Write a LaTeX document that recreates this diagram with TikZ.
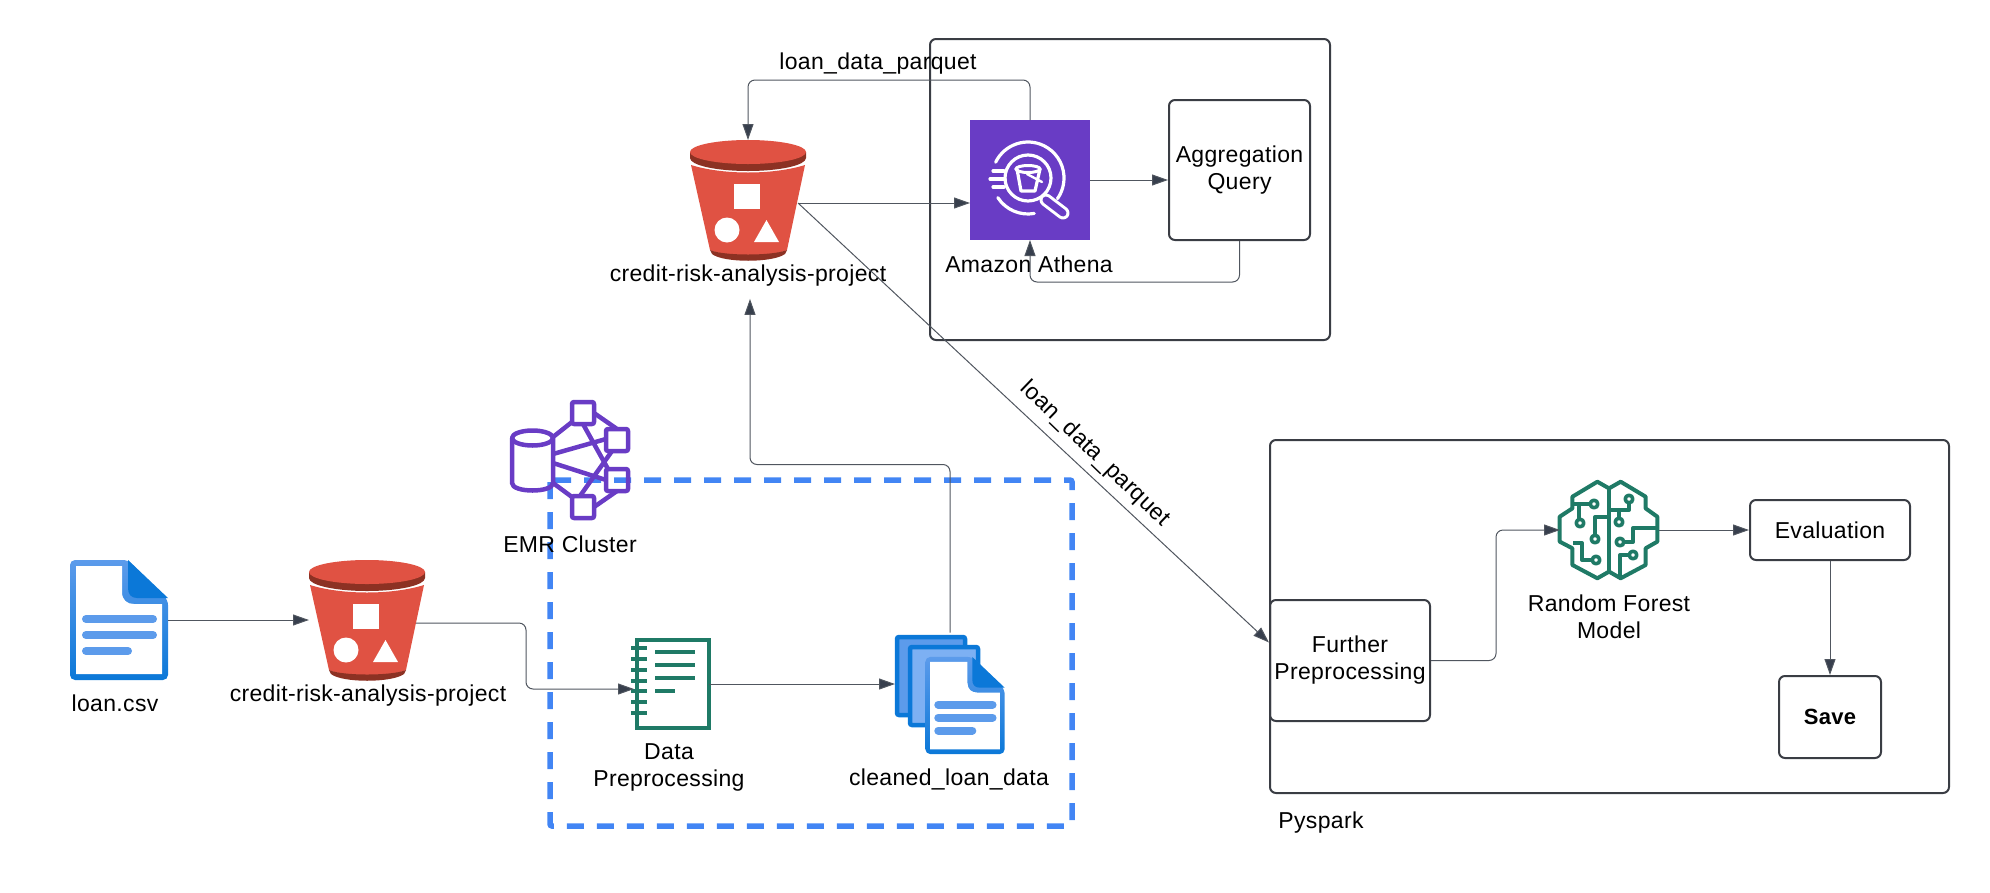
\documentclass[tikz,border=0pt]{standalone}
\usepackage{fontspec}
\setmainfont[LetterSpace=1.5]{Liberation Sans}
\usetikzlibrary{arrows.meta, shapes.geometric, positioning, calc}
\definecolor{lineGray}{HTML}{50565F}
\definecolor{tipGray}{HTML}{373F4D}
\definecolor{boxGray}{HTML}{3A3D44}
\definecolor{bucketRed}{HTML}{E05243}
\definecolor{bucketDark}{HTML}{8C3123}
\definecolor{awsPurple}{HTML}{693CC5}
\definecolor{mlGreen}{HTML}{1F7A66}
\definecolor{dashBlue}{HTML}{4285F4}
\definecolor{docDark}{HTML}{0B78D8}
\definecolor{docLight}{HTML}{5C9BEB}
\definecolor{docPale}{HTML}{7DB0F3}
\tikzstyle{arrow} = [draw=lineGray, line width=1pt, rounded corners=7pt, -{Triangle[length=16pt,width=11pt,fill=tipGray]}]
\tikzstyle{box} = [draw=boxGray, line width=2pt, rounded corners=6pt]
\tikzstyle{txt} = [font=\fontsize{23}{27}\selectfont, align=center, text=black, inner sep=0pt]
\tikzstyle{icon} = [inner sep=0pt, outer sep=0pt]
\tikzset{
	bucketpic/.pic={
		\fill[bucketRed] (-57,-35) .. controls (-25,-25) and (25,-25) .. (57,-35) -- (39,50) .. controls (25,57) and (-25,57) .. (-38,50) -- cycle;
		\fill[bucketDark] (-38,50) .. controls (-25,56) and (25,56) .. (39,50) -- (37,54) .. controls (25,63) and (-25,63) .. (-36,54) -- cycle;
		\fill[bucketDark] (-58,-48) -- (-58,-42) arc[start angle=180, end angle=0, x radius=58, y radius=13] -- (58,-48) -- cycle;
		\fill[bucketRed] (0,-48) ellipse[x radius=58, y radius=12];
		\fill[white] (-14,-16) rectangle (12,9);
		\fill[white] (-21,30) circle[radius=12.5];
		\fill[white] (6,42) -- (31,42) -- (18.5,20) -- cycle;
	},
	docpage/.pic={
		\shade[top color=docLight, bottom color=docDark, rounded corners=5pt] (-49,-60) -- (9,-60) -- (49,-20) -- (49,60) -- (-49,60) -- cycle;
		\fill[white] (-43,-54) -- (3,-54) -- (3,-28) .. controls (3,-20) and (8,-16) .. (15,-16) -- (43,-16) -- (43,54) -- (-43,54) -- cycle;
		\fill[docDark] (9,-60) -- (49,-22) -- (18,-22) .. controls (12,-22) and (9,-26) .. (9,-32) -- cycle;
		\draw[docLight, line width=8pt, line cap=round] (-33,-1) -- (34,-1) (-33,15) -- (34,15) (-33,31) -- (9,31);
	},
	athenapic/.pic={
		\fill[awsPurple] (-60,-60) rectangle (60,60);
		\draw[white, line width=3.2pt, line cap=round] (-2,-2) circle[radius=23];
		\draw[white, line width=3.2pt, line cap=round] (-2,-2) ++(206:36) arc[start angle=206, end angle=395, radius=36];
		\draw[white, line width=3.2pt, line cap=round] (-2,-2) ++(80:36) arc[start angle=80, end angle=147, radius=36];
		\draw[white, line width=3.2pt, line cap=round] (-37,-9) -- (-26,-9) (-40,-1) -- (-25,-1) (-37,7) -- (-26,7);
		\draw[white, line width=3.2pt, line join=round] (-13,-11) -- (-9,11) -- (5,11) -- (10,-11);
		\draw[white, line width=3pt] (-2,-11) ellipse[x radius=12, y radius=3.5];
		\draw[white, line width=2.4pt, line cap=round] (-3,-6) -- (12,2);
		\draw[white, line width=13pt, line cap=round] (16,20) -- (33,33);
		\draw[awsPurple, line width=7pt, line cap=round] (16,20) -- (33,33);
	},
	emrpic/.pic={
		\begin{scope}[awsPurple, line width=4.5pt, line join=round]
			\draw (-58,-22) -- (-58,23) .. controls (-58,33) and (-17,33) .. (-17,23) -- (-17,-22);
			\draw (-37.5,-22) ellipse[x radius=20.5, y radius=7.5];
			\foreach \sx/\sy in {13/-47, 47/-20, 47/20, 13/47}
				\draw[rounded corners=2pt] (\sx-11,\sy-11) rectangle (\sx+11,\sy+11);
			\draw (-17,-23) -- (2,-38);
			\draw (-17,-6) -- (36,-21);
			\draw (-17,3) -- (36,20);
			\draw (-17,23) -- (2,37);
			\draw (24,-47) -- (47,-31);
			\draw (13,-36) -- (38,9);
			\draw (42,-9) -- (10,36);
			\draw (24,47) -- (47,31);
		\end{scope}
	},
	prepnote/.pic={
		\draw[mlGreen, line width=3.6pt] (-33,-44) rectangle (39,44);
		\foreach \ty in {-36,-25,-14,-3,7,18,29}
			\draw[mlGreen, line width=4pt] (-39,\ty) -- (-23,\ty);
		\draw[mlGreen, line width=3.4pt] (-15,-32) -- (25,-32) (-15,-19) -- (25,-19) (-15,-6) -- (25,-6) (-15,7) -- (5,7);
	},
	stackpic/.pic={
		\draw[docDark, fill=docLight, line width=4.5pt, rounded corners=2pt] (-53,-55) rectangle (15,23);
		\draw[docDark, fill=docPale, line width=4.5pt, rounded corners=2pt] (-40,-45) rectangle (28,33);
		\pic[scale=0.81] at (15,13.5) {docpage};
	},
	brainpic/.pic={
		\begin{scope}[mlGreen, line width=4pt, line join=round]
			\draw[x=0.333pt, y=0.333pt] (0,-125) -- (-35,-145) -- (-110,-105) -- (-110,-55) -- (-148,-35) -- (-148,40) -- (-110,65) -- (-110,100) -- (-35,145) -- (0,125) -- (35,145) -- (110,100) -- (110,65) -- (145,40) -- (145,-35) -- (110,-55) -- (110,-105) -- (35,-145) -- cycle;
			\draw (0,-42) -- (0,42);
			\draw (-35,-26) -- (-15,-26);
			\draw (-30,-26) -- (-30,-7);
			\draw (0,-13) -- (-14,-13) -- (-14,9);
			\draw (-36,13) -- (-27,13) -- (-27,30) -- (-13,30);
			\draw (0,-20) -- (20,-20) -- (20,-31);
			\draw (10,-20) -- (10,-8);
			\draw (48,-2) -- (24,-2) -- (24,12) -- (11,12);
			\draw (11,47) -- (11,25) -- (24,25);
			\foreach \nx/\ny in {-15/-26, -29/-7, -14/9, -13/30, 20/-31, 10/-8, 11/12, 24/25}
				\draw[fill=white, line width=3.6pt] (\nx,\ny) circle[radius=3.8];
		\end{scope}
	}
}
\begin{document}
\begin{tikzpicture}[x=1pt, y=-1pt]
	\useasboundingbox (0,0) rectangle (1990,892);
	
	% Dashed region of the cluster
	\draw[dashBlue, line width=5.5pt, dash pattern=on 17pt off 13pt, rounded corners=2pt] (550,480) rectangle (1072,826);
	
	% Outer frames
	\node[box, minimum width=400pt, minimum height=301pt] (frameAthena) at (1130,189.5) {};
	\node[box, minimum width=679pt, minimum height=353pt] (framePyspark) at (1609.5,616.5) {};
	
	% Icons
	\node[icon, minimum width=98pt, minimum height=120pt] (iconCsv) at (119,620) {};
	\pic at (119,620) {docpage};
	\node[icon, minimum width=116pt, minimum height=120pt] (bucketLow) at (367,620) {};
	\pic at (367,620) {bucketpic};
	\node[icon, minimum width=116pt, minimum height=120pt] (bucketTop) at (748,200) {};
	\pic at (748,200) {bucketpic};
	\node[icon, minimum width=120pt, minimum height=120pt] (iconAthena) at (1030,180) {};
	\pic at (1030,180) {athenapic};
	\pic at (570,460) {emrpic};
	\node[icon, minimum width=78pt, minimum height=88pt] (iconPrep) at (670,684) {};
	\pic at (670,684) {prepnote};
	\node[icon, minimum width=110pt, minimum height=119pt] (iconStack) at (950,692) {};
	\pic at (950,692) {stackpic};
	\node[icon, minimum width=99pt, minimum height=99pt] (iconForest) at (1609.5,530) {};
	\pic at (1609,530) {brainpic};
	
	% Process boxes
	\node[box, txt, minimum width=141pt, minimum height=140pt] (boxQuery) at (1239.5,170) {Aggregation\\Query};
	\node[box, txt, minimum width=160pt, minimum height=121pt] (boxFurther) at (1350,660.5) {Further\\Preprocessing};
	\node[box, txt, minimum width=160pt, minimum height=60pt] (boxEval) at (1830,530) {Evaluation};
	\node[box, txt, minimum width=102pt, minimum height=82pt, font=\fontsize{22}{26}\selectfont\bfseries] (boxSave) at (1830,717) {Save};
	
	% Labels
	\node[txt] (textCsv) at (115,703) {loan.csv};
	\node[txt] (textLow) at (368,696) {credit-risk-analysis-project};
	\node[txt] (textTop) at (748,276) {credit-risk-analysis-project};
	\node[txt] (textAthena) at (1029,264) {Amazon Athena};
	\node[txt] (textEmr) at (570,544) {EMR Cluster};
	\node[txt] (textPrep) at (669,767) {Data\\Preprocessing};
	\node[txt] (textClean) at (949,779) {cleaned\_loan\_data};
	\node[txt] (textForest) at (1609,617) {Random Forest\\Model};
	\node[txt] (textPyspark) at (1321,823) {Pyspark};
	\node[txt] (textParquetA) at (878,64) {loan\_data\_parquet};
	\node[txt, rotate=-44] (textParquetB) at (1095,454) {loan\_data\_parquet};
	
	% Connectors
	\coordinate (outLow) at ([xshift=-9pt,yshift=-3pt]bucketLow.east);
	\coordinate (outTop) at ([xshift=-8pt,yshift=-3pt]bucketTop.east);
	\draw[arrow] (iconCsv.east) -- (bucketLow.west);
	\draw[arrow] (outLow) -- ++(110,0) |- ([yshift=-5pt,xshift=3pt]iconPrep.west);
	\draw[arrow] (iconPrep.east) -- (iconStack.west |- iconPrep.east);
	\draw[arrow] (iconStack.north) -- ++(0,-168) -| ([xshift=2pt,yshift=-12pt]textTop.south);
	\draw[arrow] (outTop) -- (iconAthena.west |- outTop);
	\draw[arrow] (outTop) -- ($(boxFurther.west)+(0,-18)$);
	\draw[arrow] (iconAthena.north) -- ++(0,-40) -| (bucketTop.north);
	\draw[arrow] (iconAthena.east) -- (boxQuery.west |- iconAthena.east);
	\draw[arrow] (boxQuery.south) -- ++(0,41) -| (iconAthena.south);
	\draw[arrow] (boxFurther.east) -- ++(65,0) |- (iconForest.west);
	\draw[arrow] (iconForest.east) -- (boxEval.west);
	\draw[arrow] (boxEval.south) -- (boxSave.north);
\end{tikzpicture}
\end{document}
